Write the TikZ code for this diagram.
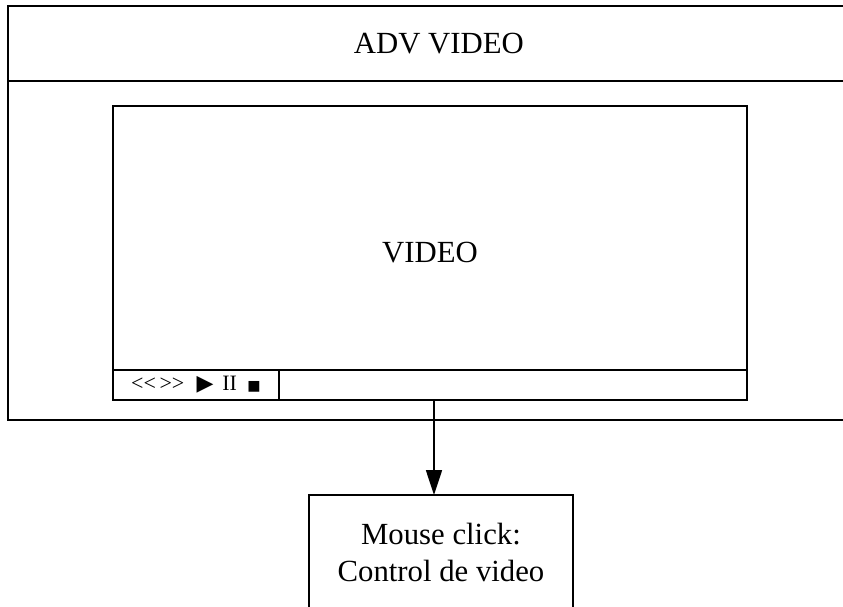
\documentclass[tikz,border=0pt]{standalone}
\usepackage{fontspec}
\setmainfont{Liberation Serif}
\newfontfamily\ctlfont{Liberation Serif}[Ligatures=TeXOff]
\newfontfamily\symfont{DejaVu Sans}
\usetikzlibrary{arrows.meta, positioning}

\begin{document}
\begin{tikzpicture}[
    x=0.02cm, y=-0.02cm,
    frame/.style={draw, line width=1pt, inner sep=0pt, outer sep=0pt, align=center, font=\fontsize{17.5}{21}\selectfont},
    ctl/.style={draw, line width=1pt, inner sep=0pt, outer sep=0pt, minimum height=0.6cm, font=\fontsize{12.5}{14}\ctlfont}
  ]
    \useasboundingbox (0,0) rectangle (843,607);

    % window
    \node[frame, anchor=north west, minimum width=17.24cm, minimum height=1.5cm] (header) at (8,6) {ADV VIDEO};
    \node[frame, anchor=north west, minimum width=17.24cm, minimum height=6.78cm] (body) at (header.south west) {};

    % player
    \node[frame, anchor=north west, minimum width=12.68cm, minimum height=5.88cm] (video) at (113,106) {VIDEO};
    \node[ctl, anchor=south west, minimum width=3.32cm] (controls) at (video.south west) {<<\hspace{2pt}>>\hspace{7pt}{\symfont▶}\hspace{5pt}II\hspace{6pt}{\symfont\fontsize{8}{8}\selectfont■}};
    \node[ctl, anchor=north west, minimum width=9.36cm] (bar) at (controls.north east) {};

    \node[frame, anchor=north, minimum width=5.28cm, inner ysep=0.56cm] (click) at (441,495) {Mouse click:\\Control de video};

    \coordinate (tap) at (434,400);
    \draw[-{Triangle[length=0.5cm, width=0.32cm]}, line width=1pt] (tap) -- (tap |- click.north);
\end{tikzpicture}
\end{document}
